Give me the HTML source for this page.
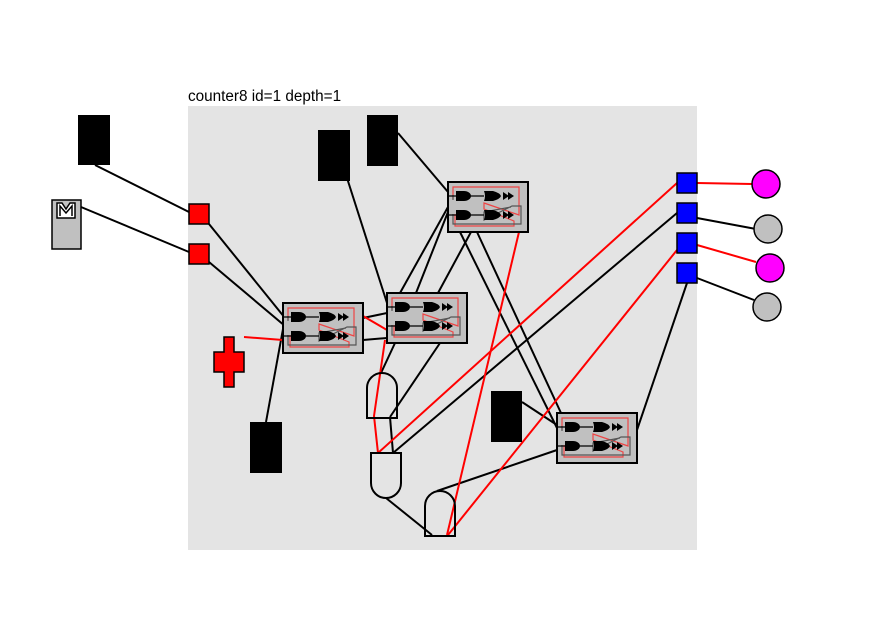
<!DOCTYPE html>
<html><head><style>body{margin:0;background:#fff}svg{display:block}</style></head><body>
<svg width="886" height="629" xmlns="http://www.w3.org/2000/svg">
<defs>
<g id="ff">
<rect x="0" y="0" width="80" height="50" fill="#c0c0c0" stroke="#000" stroke-width="2"/>
<path d="M5,17 V5 H71 V33 L36,21 V27 L66,39 V44 H7 V32" fill="none" stroke="#e44" stroke-width="1.2"/>
<path d="M5,13 V18 M5,32 V42 H73 V24 H64 L36,38 V30 L63,25" fill="none" stroke="#555" stroke-width="1.2"/>
<path d="M8,9 H16 A7,5 0 0 1 16,19 H8 Z" fill="#000"/>
<path d="M8,28 H16 A7,5 0 0 1 16,38 H8 Z" fill="#000"/>
<path d="M36,9 H45 Q52,11 53,14 Q52,17 45,19 H36 Q38,14 36,9 Z" fill="#000"/>
<path d="M36,28 H45 Q52,30 53,33 Q52,36 45,38 H36 Q38,33 36,28 Z" fill="#000"/>
<path d="M55,10 L61,14 L55,18 Z M60,10 L66,14 L60,18 Z" fill="#000"/>
<path d="M55,29 L61,33 L55,37 Z M60,29 L66,33 L60,37 Z" fill="#000"/>
<path d="M0,14 H8 M23,14 H36 M0,33 H8 M23,33 H36" stroke="#000" stroke-width="1.2"/>
</g>
</defs>
<rect x="188" y="106" width="509" height="444" fill="#e4e4e4"/>
<text x="188" y="101" font-family="Liberation Sans, sans-serif" font-size="15.3" fill="#000">counter8 id=1 depth=1</text>
<g stroke="#000" stroke-width="2" fill="none">
<line x1="95" y1="165" x2="189" y2="212"/>
<line x1="81" y1="207" x2="189" y2="252"/>
<line x1="209" y1="224" x2="285" y2="318"/>
<line x1="209" y1="262" x2="285" y2="326"/>
<line x1="266" y1="422" x2="285" y2="318"/>
<line x1="347" y1="178" x2="387" y2="303"/>
<line x1="398" y1="133" x2="448" y2="192"/>
<line x1="363" y1="318" x2="387" y2="313"/>
<line x1="363" y1="340" x2="387" y2="338"/>
<line x1="448" y1="207" x2="400" y2="293"/>
<line x1="448" y1="212" x2="416" y2="293"/>
<line x1="471" y1="232" x2="438" y2="293"/>
<line x1="460" y1="232" x2="557" y2="428"/>
<line x1="477" y1="232" x2="561" y2="413"/>
<line x1="395" y1="343" x2="381" y2="373"/>
<line x1="440" y1="343" x2="390" y2="417"/>
<line x1="390" y1="417" x2="393" y2="453"/>
<line x1="677" y1="213" x2="393" y2="453"/>
<line x1="687" y1="283" x2="637" y2="430"/>
<line x1="522" y1="402" x2="557" y2="425"/>
<line x1="437" y1="491" x2="557" y2="450"/>
<line x1="386" y1="498" x2="432" y2="535"/>
<line x1="697" y1="218" x2="756" y2="229"/>
<line x1="697" y1="278" x2="754" y2="300"/>
</g>
<g stroke="#f00" stroke-width="2" fill="none">
<line x1="244" y1="337" x2="283" y2="340"/>
<line x1="363" y1="316" x2="387" y2="330"/>
<polyline points="385,340 374,416 378,453"/>
<line x1="677" y1="183" x2="378" y2="453"/>
<line x1="697" y1="183" x2="752" y2="184"/>
<line x1="697" y1="245" x2="756" y2="262"/>
<line x1="677" y1="250" x2="448" y2="535"/>
<line x1="519" y1="232" x2="447" y2="535"/>
</g>
<use href="#ff" x="283" y="303"/>
<use href="#ff" x="387" y="293"/>
<use href="#ff" x="448" y="182"/>
<use href="#ff" x="557" y="413"/>
<g stroke="#000" stroke-width="2" fill="none">
<path d="M367,418 V388 A15,15 0 0 1 397,388 V418 Z"/>
<path d="M371,453 V483 A15,15 0 0 0 401,483 V453 Z"/>
<path d="M425,536 V506 A15,15 0 0 1 455,506 V536 Z"/>
</g>
<g fill="#000">
<rect x="78" y="115" width="32" height="50"/>
<rect x="318" y="130" width="32" height="51"/>
<rect x="367" y="115" width="31" height="51"/>
<rect x="250" y="422" width="32" height="51"/>
<rect x="491" y="391" width="31" height="51"/>
</g>
<rect x="52" y="200" width="29" height="49" fill="#c0c0c0" stroke="#000" stroke-width="1.5"/>
<path d="M57,218 V203 H62 L66,209 L70,203 H75 V218 Z" fill="#fff" stroke="#000" stroke-width="1.5"/>
<path d="M60,216 V206 L66,213 L72,206 V216" fill="none" stroke="#000" stroke-width="1.5"/>
<g fill="#f00" stroke="#000" stroke-width="1.5">
<rect x="189" y="204" width="20" height="20"/>
<rect x="189" y="244" width="20" height="20"/>
<path d="M224,337 H234 V352 H244 V372 H234 V387 H224 V372 H214 V352 H224 Z"/>
</g>
<g fill="#00f" stroke="#000" stroke-width="1.5">
<rect x="677" y="173" width="20" height="20"/>
<rect x="677" y="203" width="20" height="20"/>
<rect x="677" y="233" width="20" height="20"/>
<rect x="677" y="263" width="20" height="20"/>
</g>
<g stroke="#000" stroke-width="1.5">
<circle cx="766" cy="184" r="14" fill="#f0f"/>
<circle cx="768" cy="229" r="14" fill="#c0c0c0"/>
<circle cx="770" cy="268" r="14" fill="#f0f"/>
<circle cx="767" cy="307" r="14" fill="#c0c0c0"/>
</g>
</svg>
</body></html>
